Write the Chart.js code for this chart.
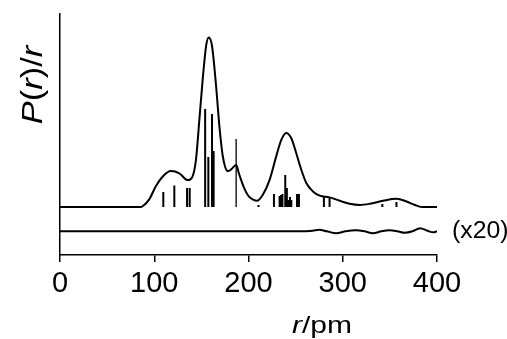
<!DOCTYPE html>
<html>
<head>
<meta charset="utf-8">
<script src="https://cdn.jsdelivr.net/npm/chart.js@4/dist/chart.umd.min.js"></script>
<style>
  html, body { margin: 0; padding: 0; background: #fff; }
</style>
</head>
<body>
<canvas id="chart" width="507" height="339"></canvas>
<script>
// P(r)/r fit, arbitrary units (main peak = 100)
const curveR = [0, 85, 88, 94.7, 101.8, 108.8, 117.7, 126.6, 135.5, 140.8, 144.3, 147.9, 151.4, 155, 157.8,
    161.3, 165.6, 169.1, 172.7, 178, 181.6, 186.9, 190, 195, 200, 205, 209, 215.2, 222.3, 229.4, 234.7,
    240, 245.3, 250.6, 256, 261.3, 268.4, 275.5, 286, 296.8, 307.4, 318, 328.7, 342.8, 357, 367.7,
    376.6, 383.7, 400];
const curveP = [0, 0, 0.6, 4.5, 12.4, 17.9, 21.2, 19.9, 15.9, 18.3, 28.1, 51.7, 75.3, 95, 100,
    95, 71.4, 47.8, 30.1, 21.2, 22.2, 24.8, 19.5, 11.8, 6.5, 4.4, 3.7, 7.3, 15.9, 29.9, 39.5,
    43.7, 40.7, 31.9, 22, 14.2, 9.2, 6.7, 5.7, 3.7, 1.9, 1.2, 1.9, 3.7, 4.9, 3.3,
    1.2, 0, 0];

// individual distances (stick spectrum)
const stickR = [109.6, 121.3, 134.8, 137.6, 154, 157.4, 161.3, 163, 210.6, 227, 233, 234.5, 236,
    239, 240.7, 242.5, 244, 245.4, 251.5, 253.5, 280, 286, 342, 357];
const stickH = [8.8, 12.7, 11.2, 11.2, 57.8, 29.5, 54.9, 33, 1.2, 7.7, 6.5, 7.1, 7.7,
    18.9, 11.2, 4.1, 5.9, 4.1, 7.7, 7.7, 5.9, 5.9, 1.8, 2.9];
const thinStickR = [186.9];
const thinStickH = [40.1];

// residuals (x20)
const residR = [0, 250, 268, 275, 283, 293, 303, 314, 323, 332, 341, 350, 358, 366, 374, 382, 390, 396, 400];
const residP = [0, 0, 0.3, 0.9, 0, -1.2, 0, 0.6, 0, -1.2, 0, 0.6, 0, -0.9, 0, 1.8, 0.3, -0.6, 0];
const residOffset = -14.3;

const xTicks = [0, 100, 200, 300, 400];

const FONT = '"Liberation Sans", Arial, Helvetica, sans-serif';

function toPoints(xs, ys, offset) {
    return xs.map((x, i) => ({ x: x, y: ys[i] + (offset || 0) }));
}

function stickPoints(rs, hs) {
    const pts = [];
    rs.forEach((r, i) => {
        pts.push({ x: r, y: 0 }, { x: r, y: hs[i] }, { x: r, y: null });
    });
    return pts;
}

// draw a run of text segments, some italic
function drawRich(ctx, parts, size) {
    let total = 0;
    const widths = parts.map(p => {
        ctx.font = (p[1] ? 'italic ' : '') + size + 'px ' + FONT;
        const w = ctx.measureText(p[0]).width;
        total += w;
        return w;
    });
    let x = -total / 2;
    parts.forEach((p, i) => {
        ctx.font = (p[1] ? 'italic ' : '') + size + 'px ' + FONT;
        ctx.fillText(p[0], x, 0);
        x += widths[i];
    });
}

const textPlugin = {
    id: 'axisText',
    afterDraw(chart) {
        const ctx = chart.ctx;
        const area = chart.chartArea;
        ctx.save();
        ctx.fillStyle = '#000';
        ctx.textAlign = 'left';
        ctx.textBaseline = 'alphabetic';

        // y title
        ctx.save();
        ctx.translate(42, 85);
        ctx.rotate(-Math.PI / 2);
        ctx.scale(1.15, 1);
        drawRich(ctx, [['P', true], ['(', false], ['r', true], [')', false], ['/', false], ['r', true]], 30);
        ctx.restore();

        // x title
        ctx.save();
        ctx.translate(322, 333);
        ctx.scale(1.25, 1);
        drawRich(ctx, [['r', true], ['/pm', false]], 24);
        ctx.restore();

        // residual scale note
        ctx.save();
        const y = chart.scales.y.getPixelForValue(residOffset);
        ctx.translate(area.right + 15, y);
        ctx.scale(1.08, 1);
        ctx.textBaseline = 'middle';
        ctx.font = '23px ' + FONT;
        ctx.fillText('(x20)', 0, 0);
        ctx.restore();

        ctx.restore();
    }
};

const lineStyle = {
    borderColor: '#000',
    pointRadius: 0,
    fill: false,
    spanGaps: false
};

new Chart(document.getElementById('chart').getContext('2d'), {
    type: 'line',
    data: {
        datasets: [
            Object.assign({ data: toPoints(curveR, curveP), borderWidth: 2, cubicInterpolationMode: 'monotone' }, lineStyle),
            Object.assign({ data: stickPoints(stickR, stickH), borderWidth: 2, tension: 0 }, lineStyle),
            Object.assign({ data: stickPoints(thinStickR, thinStickH), borderWidth: 1.3, tension: 0 }, lineStyle),
            Object.assign({ data: toPoints(residR, residP, residOffset), borderWidth: 2, cubicInterpolationMode: 'monotone' }, lineStyle)
        ]
    },
    options: {
        responsive: false,
        animation: false,
        devicePixelRatio: 1,
        layout: { padding: { left: 0, right: 70, top: 14, bottom: 0 } },
        plugins: {
            legend: { display: false },
            tooltip: { enabled: false }
        },
        scales: {
            x: {
                type: 'linear',
                min: 0,
                max: 400,
                afterBuildTicks: s => { s.ticks = xTicks.map(v => ({ value: v })); },
                afterFit: s => { s.height = 84; },
                grid: { drawOnChartArea: false, drawTicks: true, tickLength: 7, color: '#000', lineWidth: 1.5 },
                border: { display: true, color: '#000', width: 1.5 },
                ticks: { color: '#000', padding: 5, font: { size: 29, family: FONT }, maxRotation: 0 }
            },
            y: {
                type: 'linear',
                min: -28.3,
                max: 113.9,
                afterFit: s => { s.width = 60; },
                grid: { display: false },
                border: { display: true, color: '#000', width: 1.5 },
                ticks: { display: false }
            }
        }
    },
    plugins: [textPlugin]
});
</script>
</body>
</html>
